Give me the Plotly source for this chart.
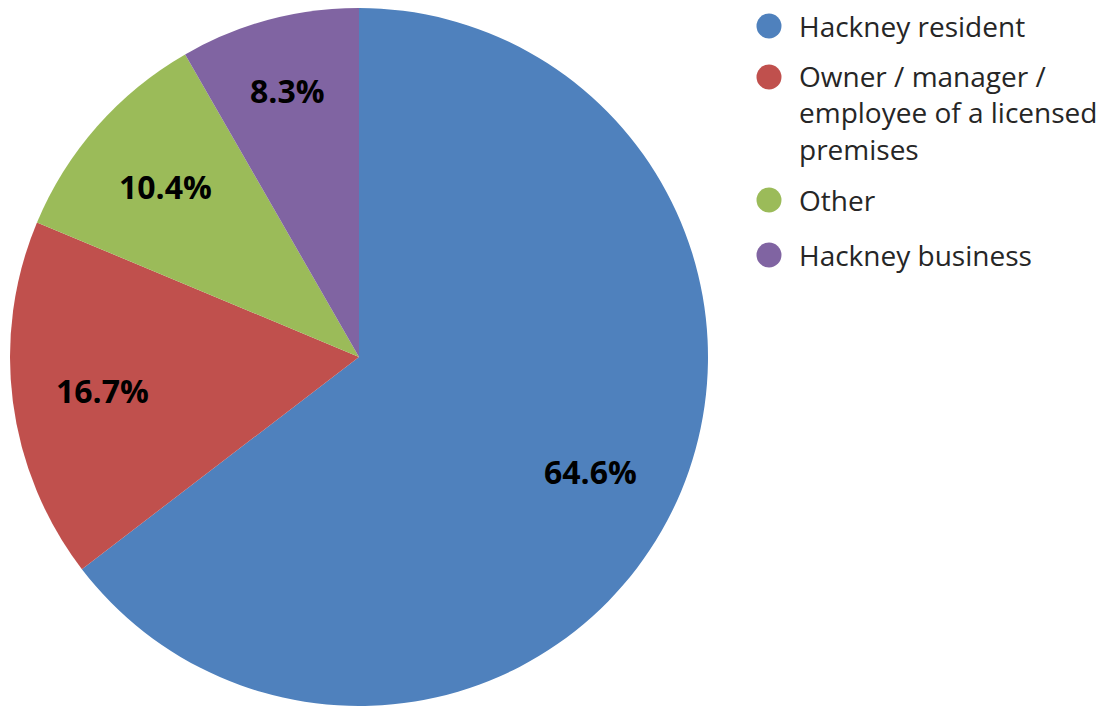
import math
import plotly.graph_objects as go

categories = ["Hackney resident",
              "Owner / manager /<br>employee of a licensed<br>premises",
              "Other",
              "Hackney business"]
values = [64.6, 16.7, 10.4, 8.3]
colors = ["#4F81BD", "#C0504D", "#9BBB59", "#8064A2"]
label_radius = [0.74, 0.74, 0.74, 0.79]

OFF = 8  # page body margin in the browser
W, H = 1115 - OFF, 706 - OFF
cx, cy, R = 359 - OFF, 357 - OFF, 349  # pixel layout of the pie

fig = go.Figure(go.Pie(
    labels=[c.replace("<br>", " ") for c in categories],
    values=values,
    sort=False,
    direction="clockwise",
    rotation=0,
    textinfo="none",
    hoverinfo="label+percent",
    marker=dict(colors=colors, line=dict(width=0)),
    domain=dict(x=[(cx - R) / W, (cx + R) / W], y=[max(0, (H - cy - R) / H), min(1, (H - cy + R) / H)]),
    showlegend=False,
))

annotations = []
shapes = []
total = sum(values)
cum = 0.0
for v, rf in zip(values, label_radius):
    mid = (cum + v / 2) / total * 2 * math.pi
    cum += v
    px = cx + rf * R * math.sin(mid)
    py = cy - rf * R * math.cos(mid)
    annotations.append(dict(
        x=px / W, y=1 - py / H, xref="paper", yref="paper",
        text=f"<b>{v:.1f}%</b>", showarrow=False,
        font=dict(family="Open Sans", size=32, color="black"),
        xanchor="center", yanchor="middle"))

# legend (manual, circle markers)
leg_first_line = [26 - OFF, 77 - OFF, 200 - OFF, 255 - OFF]
line_h = 35
for cat, col, y0 in zip(categories, colors, leg_first_line):
    nlines = cat.count("<br>") + 1
    yc = y0 + (nlines - 1) * line_h / 2
    shapes.append(dict(type="circle", xref="paper", yref="paper",
                       x0=(769 - OFF - 12.5) / W, x1=(769 - OFF + 12.5) / W,
                       y0=1 - (y0 + 12.5) / H, y1=1 - (y0 - 12.5) / H,
                       fillcolor=col, line=dict(width=0)))
    annotations.append(dict(
        x=(798 - OFF) / W, y=1 - yc / H, xref="paper", yref="paper",
        text=cat, showarrow=False, align="left", borderpad=0,
        font=dict(family="Open Sans", size=28, color="#262626"),
        xanchor="left", yanchor="middle"))

fig.update_layout(
    width=W, height=H,
    margin=dict(l=0, r=0, t=0, b=0),
    paper_bgcolor="white", plot_bgcolor="white",
    annotations=annotations, shapes=shapes,
)

fig.write_html("out.html")
